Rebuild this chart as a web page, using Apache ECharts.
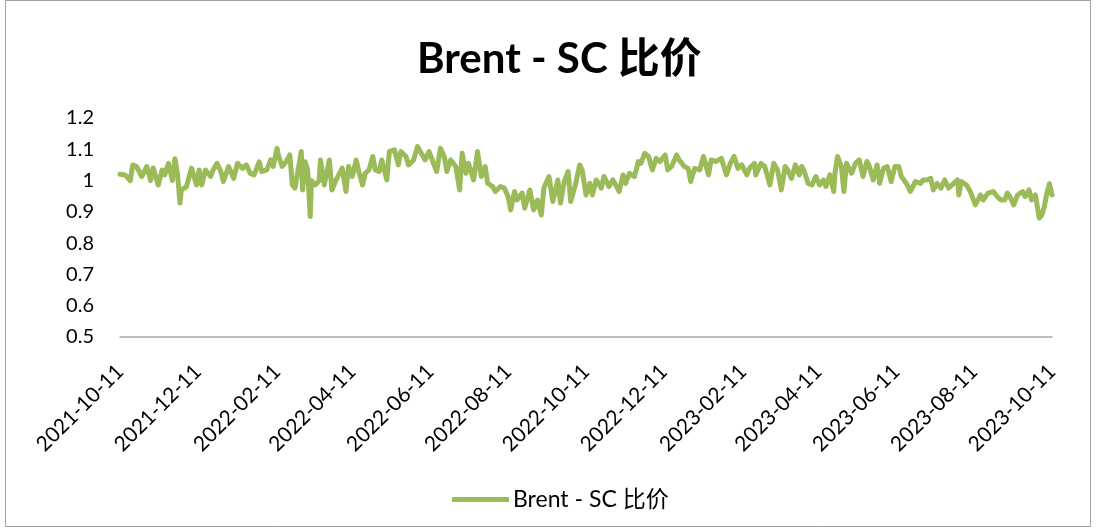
<!DOCTYPE html>
<html>
<head>
<meta charset="utf-8">
<script src="https://cdn.jsdelivr.net/npm/echarts@6/dist/echarts.min.js"></script>
<style>
html,body{margin:0;padding:0;background:#fff;}
#chart{width:1096px;height:528px;}
</style>
</head>
<body>
<div id="chart"></div>
<script>
const seriesName = 'Brent - SC 比价';
const titleText = 'Brent - SC 比价';
const tickLabels = ['2021-10-11','2021-12-11','2022-02-11','2022-04-11','2022-06-11','2022-08-11','2022-10-11','2022-12-11','2023-02-11','2023-04-11','2023-06-11','2023-08-11','2023-10-11'];
const dates = [
'2021-10-11','2021-10-12','2021-10-15','2021-10-19','2021-10-21','2021-10-24','2021-10-28','2021-11-01','2021-11-04','2021-11-06',
'2021-11-10','2021-11-13','2021-11-15','2021-11-18','2021-11-21','2021-11-23','2021-11-25','2021-11-27','2021-11-28','2021-12-02',
'2021-12-06','2021-12-10','2021-12-12','2021-12-14','2021-12-17','2021-12-21','2021-12-23','2021-12-26','2021-12-29','2021-12-31',
'2022-01-04','2022-01-08','2022-01-11','2022-01-15','2022-01-18','2022-01-21','2022-01-24','2022-01-28','2022-01-30','2022-02-03',
'2022-02-06','2022-02-08','2022-02-11','2022-02-12','2022-02-15','2022-02-18','2022-02-21','2022-02-23','2022-02-25','2022-02-28',
'2022-03-02','2022-03-03','2022-03-05','2022-03-07','2022-03-09','2022-03-10','2022-03-13','2022-03-16','2022-03-17','2022-03-20',
'2022-03-24','2022-03-26','2022-03-29','2022-04-03','2022-04-06','2022-04-08','2022-04-11','2022-04-14','2022-04-16','2022-04-19',
'2022-04-21','2022-04-24','2022-04-27','2022-04-29','2022-05-02','2022-05-04','2022-05-08','2022-05-10','2022-05-14','2022-05-17',
'2022-05-19','2022-05-23','2022-05-25','2022-05-29','2022-06-01','2022-06-04','2022-06-07','2022-06-10','2022-06-13','2022-06-16',
'2022-06-19','2022-06-22','2022-06-24','2022-06-27','2022-07-01','2022-07-04','2022-07-06','2022-07-09','2022-07-11','2022-07-15',
'2022-07-18','2022-07-21','2022-07-24','2022-07-26','2022-07-30','2022-08-01','2022-08-05','2022-08-08','2022-08-11','2022-08-13',
'2022-08-16','2022-08-18','2022-08-22','2022-08-24','2022-08-28','2022-08-31','2022-09-03','2022-09-06','2022-09-08','2022-09-12',
'2022-09-15','2022-09-19','2022-09-21','2022-09-24','2022-09-27','2022-09-29','2022-10-03','2022-10-06','2022-10-08','2022-10-11',
'2022-10-14','2022-10-16','2022-10-19','2022-10-23','2022-10-25','2022-10-29','2022-11-01','2022-11-04','2022-11-06','2022-11-09',
'2022-11-11','2022-11-14','2022-11-18','2022-11-21','2022-11-23','2022-11-26','2022-11-29','2022-12-02','2022-12-05','2022-12-08',
'2022-12-12','2022-12-14','2022-12-17','2022-12-21','2022-12-23','2022-12-27','2022-12-30','2023-01-01','2023-01-04','2023-01-08',
'2023-01-11','2023-01-15','2023-01-17','2023-01-21','2023-01-25','2023-01-29','2023-02-01','2023-02-04','2023-02-07','2023-02-10',
'2023-02-14','2023-02-16','2023-02-20','2023-02-21','2023-02-25','2023-02-28','2023-03-04','2023-03-07','2023-03-10','2023-03-13',
'2023-03-16','2023-03-18','2023-03-21','2023-03-24','2023-03-27','2023-03-29','2023-03-31','2023-04-03','2023-04-06','2023-04-09',
'2023-04-12','2023-04-15','2023-04-17','2023-04-20','2023-04-23','2023-04-24','2023-04-26','2023-04-29','2023-05-01','2023-05-03',
'2023-05-07','2023-05-10','2023-05-13','2023-05-16','2023-05-19','2023-05-21','2023-05-24','2023-05-27','2023-05-29','2023-06-01',
'2023-06-04','2023-06-07','2023-06-10','2023-06-13','2023-06-15','2023-06-19','2023-06-22','2023-06-26','2023-06-30','2023-07-02',
'2023-07-05','2023-07-08','2023-07-10','2023-07-13','2023-07-16','2023-07-19','2023-07-22','2023-07-26','2023-07-29','2023-07-30',
'2023-08-01','2023-08-05','2023-08-08','2023-08-12','2023-08-16','2023-08-18','2023-08-22','2023-08-26','2023-08-29','2023-09-01',
'2023-09-04','2023-09-06','2023-09-08','2023-09-11','2023-09-14','2023-09-18','2023-09-20','2023-09-23','2023-09-25','2023-09-28',
'2023-10-01','2023-10-03','2023-10-05','2023-10-07','2023-10-09','2023-10-11'
];
const values = [
1.02,1.023,1.018,1.0,1.05,1.045,1.013,1.045,1.0,1.04,
0.986,1.034,1.018,1.055,1.0,1.07,1.023,0.928,0.97,0.98,
1.04,0.986,1.034,0.986,1.034,1.013,1.034,1.055,1.029,0.997,
1.045,1.007,1.055,1.039,1.05,1.023,1.018,1.06,1.029,1.034,
1.066,1.045,1.103,1.082,1.045,1.06,1.082,0.986,0.976,1.045,
1.093,0.97,1.06,1.034,0.885,1.0,0.986,1.0,1.066,0.986,
1.066,0.97,1.0,1.04,0.965,1.045,1.013,1.066,1.029,0.986,
1.023,1.034,1.077,1.034,1.029,1.066,1.002,1.093,1.098,1.05,
1.093,1.077,1.05,1.066,1.109,1.087,1.066,1.093,1.061,1.029,
1.103,1.077,1.029,1.066,1.045,0.97,1.087,1.023,1.055,1.002,
1.093,1.013,1.045,0.991,0.981,0.965,0.981,0.976,0.949,0.906,
0.965,0.938,0.96,0.912,0.97,0.906,0.938,0.89,0.976,1.013,
0.933,1.002,0.928,0.997,1.029,0.933,0.991,1.05,1.034,0.954,
0.991,0.954,1.002,0.976,1.013,0.981,1.002,0.981,0.965,1.018,
0.991,1.023,1.013,1.061,1.055,1.087,1.077,1.034,1.071,1.061,
1.082,1.034,1.045,1.082,1.066,1.045,1.039,0.997,1.039,1.034,
1.077,1.018,1.066,1.061,1.071,1.018,1.055,1.077,1.039,1.05,
1.018,1.039,1.055,1.018,1.055,1.045,0.986,1.055,1.034,0.97,
1.045,1.034,1.007,1.05,1.018,1.045,1.029,0.991,0.986,1.013,
0.986,1.002,0.981,1.018,0.965,1.023,1.077,1.045,0.965,1.055,
1.023,1.055,1.066,1.013,1.061,1.045,1.002,1.05,0.991,1.039,
1.045,0.997,1.045,1.045,1.013,0.991,0.965,0.997,0.991,1.002,
1.002,1.007,0.97,0.991,0.976,1.002,0.976,0.991,1.002,0.954,
0.997,0.986,0.965,0.922,0.954,0.938,0.96,0.965,0.949,0.938,
0.938,0.96,0.949,0.922,0.954,0.965,0.949,0.97,0.938,0.954,
0.88,0.89,0.917,0.96,0.99,0.954
];
const yTicks = {min: 0.5, max: 1.2, interval: 0.1};

function parseLocal(s){ const p = s.split('-').map(Number); return new Date(p[0], p[1]-1, p[2]).getTime(); }
function fmt(v){ const d = new Date(v); const p = n => (n<10?'0':'')+n; return d.getFullYear()+'-'+p(d.getMonth()+1)+'-'+p(d.getDate()); }

const FONT = 'Lato, "Noto Sans CJK SC", sans-serif';
const chart = echarts.init(document.getElementById('chart'), null, {renderer:'canvas'});
chart.setOption({
  animation:false,
  backgroundColor:'#fff',
  title:{text:titleText,left:412,top:33,textStyle:{fontFamily:FONT,fontSize:42,fontWeight:'bold',color:'#000'}},
  legend:{top:483,left:447,itemWidth:57,itemHeight:5,itemGap:10,icon:'rect',textStyle:{fontFamily:FONT,fontSize:23,color:'#000',padding:[0,0,0,-1]},data:[seriesName]},
  grid:{left:120,right:44,top:118,bottom:191,containLabel:false},
  xAxis:{type:'value',min:parseLocal(tickLabels[0]),max:parseLocal(tickLabels[tickLabels.length-1]),
    axisLine:{show:true,lineStyle:{color:'#a6a6a6',width:1.5}},
    axisTick:{show:false},
    splitLine:{show:false},
    axisLabel:{customValues:tickLabels.map(parseLocal),formatter:v=>fmt(v),rotate:45,fontFamily:FONT,fontSize:21,color:'#000',margin:31,hideOverlap:false,showMinLabel:true,showMaxLabel:true}
  },
  yAxis:{type:'value',min:yTicks.min,max:yTicks.max,interval:yTicks.interval,
    axisLine:{show:false},axisTick:{show:false},splitLine:{show:false},
    axisLabel:{fontFamily:FONT,fontSize:20,color:'#000',margin:26,formatter:v=>String(+v.toFixed(1))}
  },
  graphic:[{type:'rect',shape:{x:5.5,y:0.5,width:1085,height:526},style:{fill:'none',stroke:'#a0a0a0',lineWidth:1},silent:true}],
  series:[{name:seriesName,type:'line',showSymbol:false,symbol:'none',
    data:dates.map((d,i)=>[parseLocal(d),values[i]]),
    lineStyle:{color:'#9bbb59',width:5,join:'round',cap:'round'},itemStyle:{color:'#9bbb59'}}]
});
</script>
</body>
</html>
